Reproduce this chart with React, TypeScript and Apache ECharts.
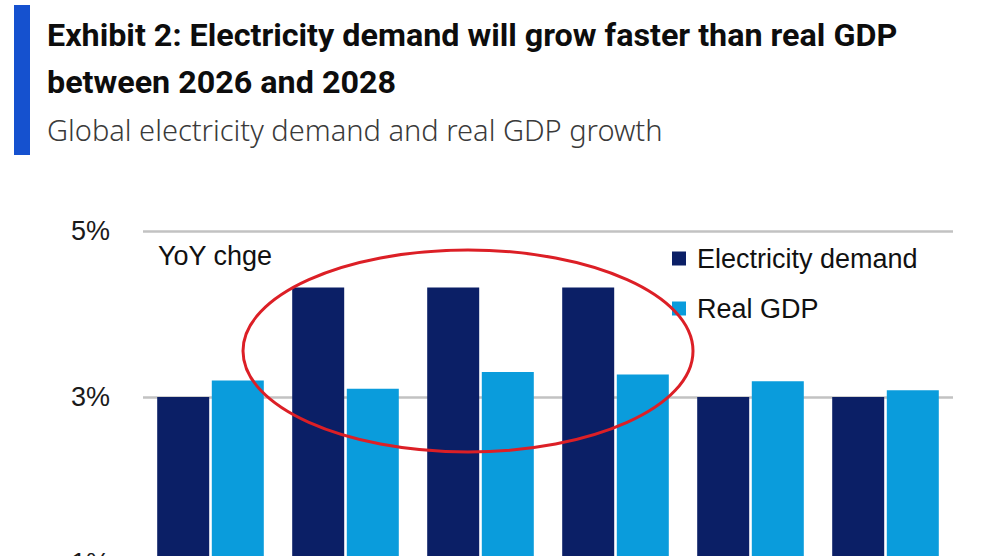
import React, { useEffect, useRef } from "react";
import * as echarts from "echarts";

// Years on the category axis (the axis itself sits below the visible area)
const categories = ["2025", "2026", "2027", "2028", "2029", "2030"];
// YoY change, %
const electricityDemand = [3.0, 4.32, 4.32, 4.32, 3.0, 3.0];
const realGdp = [3.2, 3.1, 3.3, 3.27, 3.19, 3.08];
// Value axis ticks: -1%, 1%, 3%, 5%
const yMin = -1;
const yMax = 5;
const yInterval = 2;

const titleLine1 = "Exhibit 2: Electricity demand will grow faster than real GDP";
const titleLine2 = "between 2026 and 2028";
const subtitle = "Global electricity demand and real GDP growth";
const unitNote = "YoY chge";
const seriesNames = ["Electricity demand", "Real GDP"];

const DARK = "#0b1f66";
const LIGHT = "#0a9cdc";
const ARIAL = "'Liberation Sans', Arial, sans-serif";
const TITLE_FONT = "700 31px Roboto, 'Noto Sans', sans-serif";
const SUB_FONT = "300 29px 'Noto Sans', Lato, sans-serif";

function textWidth(text: string, font: string): number {
  const ctx = document.createElement("canvas").getContext("2d");
  if (!ctx) return 0;
  ctx.font = font;
  return ctx.measureText(text).width;
}

export default function App() {
  const ref = useRef<HTMLDivElement>(null);

  useEffect(() => {
    if (!ref.current) return;
    const chart = echarts.init(ref.current, null, { renderer: "svg" });

    // Squeeze the headline fonts to the condensed width of the house style
    const w1 = textWidth(titleLine1, TITLE_FONT) || 851;
    const titleScale = 851 / w1;
    const ws = textWidth(subtitle, SUB_FONT) || 616;
    const subScale = 616 / ws;

    const option: any = {
      animation: false,
      backgroundColor: "#ffffff",
      // The plot runs past the bottom edge of the page: 83px per 1%
      grid: {
        left: 143,
        top: 231,
        width: 810,
        height: 498,
        containLabel: false,
        outerBoundsMode: "none",
      },
      legend: {
        data: seriesNames,
        orient: "vertical",
        left: 672,
        top: 243.5,
        padding: 0,
        itemWidth: 14,
        itemHeight: 14,
        itemGap: 20,
        icon: "rect",
        textStyle: {
          fontFamily: ARIAL,
          fontSize: 27,
          color: "#111111",
          lineHeight: 30,
          padding: [0, 0, 0, 6],
        },
      },
      xAxis: {
        type: "category",
        data: categories,
        axisLine: { show: false },
        axisTick: { show: false },
        axisLabel: { show: false },
      },
      yAxis: {
        type: "value",
        min: yMin,
        max: yMax,
        interval: yInterval,
        axisLine: { show: false },
        axisTick: { show: false },
        axisLabel: {
          margin: 33,
          fontFamily: ARIAL,
          fontSize: 27,
          color: "#1a1a1a",
          formatter: (v: number) => `${v}%`,
        },
        splitLine: { lineStyle: { color: "#c2c2c2", width: 2.5 } },
      },
      series: [
        {
          name: seriesNames[0],
          type: "bar",
          data: electricityDemand,
          barWidth: 52,
          barGap: "5%",
          itemStyle: { color: DARK },
        },
        {
          name: seriesNames[1],
          type: "bar",
          data: realGdp,
          barWidth: 52,
          barGap: "5%",
          itemStyle: { color: LIGHT },
        },
      ],
      graphic: [
        {
          type: "rect",
          shape: { x: 14, y: 5, width: 16, height: 150 },
          style: { fill: "#1551cf" },
        },
        {
          type: "text",
          x: 47,
          y: 36,
          scaleX: titleScale,
          style: {
            text: titleLine1,
            font: TITLE_FONT,
            fill: "#0d0d0d",
            textAlign: "left",
            textVerticalAlign: "middle",
          },
        },
        {
          type: "text",
          x: 47,
          y: 83,
          scaleX: titleScale,
          style: {
            text: titleLine2,
            font: TITLE_FONT,
            fill: "#0d0d0d",
            textAlign: "left",
            textVerticalAlign: "middle",
          },
        },
        {
          type: "text",
          x: 47,
          y: 130,
          scaleX: subScale,
          style: {
            text: subtitle,
            font: SUB_FONT,
            fill: "#3a3a3a",
            textAlign: "left",
            textVerticalAlign: "middle",
          },
        },
        {
          type: "text",
          x: 158,
          y: 256,
          style: {
            text: unitNote,
            font: `27px ${ARIAL}`,
            fill: "#111111",
            textAlign: "left",
            textVerticalAlign: "middle",
          },
        },
        {
          type: "ellipse",
          z: 100,
          shape: { cx: 468, cy: 351, rx: 225, ry: 101 },
          style: { fill: "none", stroke: "#dc1f26", lineWidth: 3 },
        },
      ],
    };

    chart.setOption(option);
    return () => chart.dispose();
  }, []);

  return (
    <div
      ref={ref}
      style={{ position: "fixed", left: 0, top: 0, width: 988, height: 556, background: "#fff" }}
    />
  );
}
